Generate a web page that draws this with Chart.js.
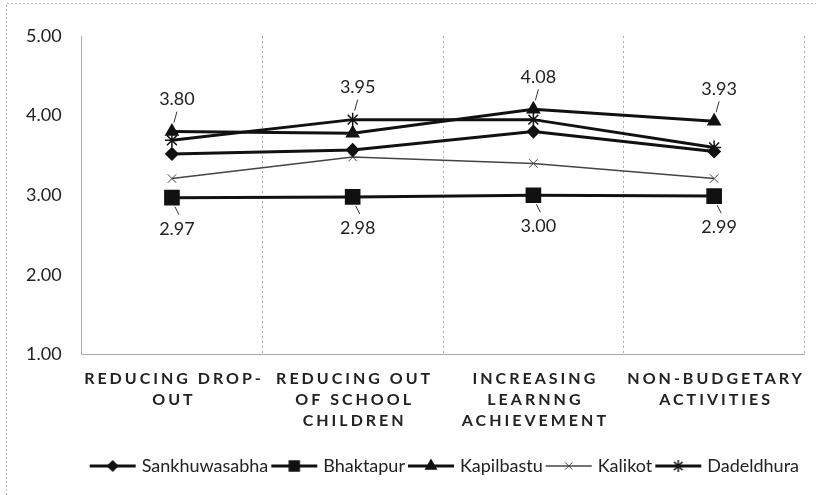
<!DOCTYPE html>
<html>
<head>
<meta charset="utf-8">
<script src="https://cdn.jsdelivr.net/npm/chart.js@4"></script>
<style>
  body { margin: 0; background: #fff; }
  canvas { display: block; }
</style>
</head>
<body>
<canvas id="chart" width="816" height="495"></canvas>
<script>
const categories = [
  ["REDUCING DROP-", "OUT"],
  ["REDUCING OUT", "OF SCHOOL", "CHILDREN"],
  ["INCREASING", "LEARNNG", "ACHIEVEMENT"],
  ["NON-BUDGETARY", "ACTIVITIES"],
];
const sankhuwasabha = [3.52, 3.57, 3.80, 3.55];
const bhaktapur = [2.97, 2.98, 3.0, 2.99];
const kapilbastu = [3.8, 3.78, 4.08, 3.93];
const kalikot = [3.21, 3.48, 3.4, 3.21];
const dadeldhura = [3.69, 3.95, 3.95, 3.6];
const yTicks = [1, 2, 3, 4, 5];

const FONT = "Lato, 'Open Sans', sans-serif";

// small picture of line + marker for the legend
const legendIcon = (style, color, lineWidth, radius) => {
  const c = document.createElement("canvas");
  c.width = 50;
  c.height = 18;
  const ctx = c.getContext("2d");
  ctx.strokeStyle = color;
  ctx.fillStyle = color;
  ctx.lineWidth = lineWidth;
  ctx.beginPath();
  ctx.moveTo(2, 9);
  ctx.lineTo(48, 9);
  ctx.stroke();
  ctx.lineWidth = style === "crossRot" ? 1 : 1.5;
  Chart.helpers.drawPoint(ctx, { pointStyle: style, radius: radius, borderWidth: ctx.lineWidth }, 25, 9);
  return c;
};

const makeSet = (label, data, style, color, width, radius, iconRadius) => ({
  label: label,
  data: data,
  borderColor: color,
  backgroundColor: color,
  borderWidth: width,
  pointStyle: style,
  pointRadius: radius,
  pointBorderWidth: style === "crossRot" ? 1 : 1.5,
  pointBackgroundColor: color,
  pointBorderColor: color,
  tension: 0,
  icon: legendIcon(style, color, width, iconRadius),
});

const datasets = [
  makeSet("Sankhuwasabha", sankhuwasabha, "rectRot", "#111", 3, 6, 5),
  makeSet("Bhaktapur", bhaktapur, "rect", "#111", 3, 10, 7),
  makeSet("Kapilbastu", kapilbastu, "triangle", "#111", 3, 7, 6),
  makeSet("Kalikot", kalikot, "crossRot", "#444", 1.5, 6, 5),
  makeSet("Dadeldhura", dadeldhura, "star", "#111", 3, 7, 6),
];

// labels: highest value above each category, Bhaktapur below
const valueLabels = {
  id: "valueLabels",
  afterDatasetsDraw(chart) {
    const ctx = chart.ctx;
    const x = chart.scales.x;
    const y = chart.scales.y;
    ctx.save();
    ctx.font = "18px " + FONT;
    ctx.fillStyle = "#222";
    ctx.strokeStyle = "#333";
    ctx.lineWidth = 1;
    ctx.textAlign = "center";
    ctx.textBaseline = "middle";
    categories.forEach((c, i) => {
      let top = -Infinity;
      datasets.forEach((d) => { if (d.data[i] > top) top = d.data[i]; });
      const px = x.getPixelForValue(i);
      const pyTop = y.getPixelForValue(top);
      ctx.beginPath();
      ctx.moveTo(px + 2, pyTop - 9);
      ctx.lineTo(px + 5, pyTop - 20);
      ctx.stroke();
      ctx.fillText(top.toFixed(2), px + 5, pyTop - 32);

      const low = bhaktapur[i];
      const pyLow = y.getPixelForValue(low);
      ctx.beginPath();
      ctx.moveTo(px + 3, pyLow + 9);
      ctx.lineTo(px + 7, pyLow + 17);
      ctx.stroke();
      ctx.fillText(low.toFixed(2), px + 5, pyLow + 31);
    });
    ctx.restore();
  },
};

// x labels drawn with letter spacing, frame of the scan
const extras = {
  id: "extras",
  beforeDraw(chart) {
    const ctx = chart.ctx;
    ctx.save();
    ctx.strokeStyle = "#bbb";
    ctx.lineWidth = 1;
    ctx.setLineDash([2, 2]);
    ctx.beginPath();
    ctx.moveTo(6.5, 495);
    ctx.lineTo(6.5, 3.5);
    ctx.lineTo(816, 3.5);
    ctx.stroke();
    ctx.restore();
  },
  afterDraw(chart) {
    const ctx = chart.ctx;
    const x = chart.scales.x;
    ctx.save();
    ctx.font = "bold 16px " + FONT;
    ctx.fillStyle = "#222";
    ctx.textAlign = "center";
    ctx.textBaseline = "middle";
    ctx.letterSpacing = "3px";
    categories.forEach((lines, i) => {
      const px = x.getPixelForValue(i);
      lines.forEach((t, j) => {
        ctx.fillText(t, px + 2, chart.chartArea.bottom + 24 + j * 21);
      });
    });
    ctx.restore();
  },
};

new Chart(document.getElementById("chart"), {
  type: "line",
  data: {
    labels: categories,
    datasets: datasets,
  },
  options: {
    responsive: false,
    animation: false,
    layout: { padding: { top: 36, right: 11, left: 14, bottom: 10 } },
    scales: {
      x: {
        offset: true,
        grid: { color: "#aaa", lineWidth: 1, tickLength: 0, offset: true },
        border: { display: true, color: "#aaa", dash: [2, 3] },
        ticks: {
          color: "rgba(0,0,0,0)",
          font: { family: FONT, size: 16, weight: "bold", lineHeight: 1.3 },
          maxRotation: 0,
          autoSkip: false,
          padding: 17,
        },
      },
      y: {
        min: 1,
        max: 5,
        afterBuildTicks: (axis) => { axis.ticks = yTicks.map((v) => ({ value: v })); },
        grid: { display: false },
        border: { display: true, color: "#aaa", dash: [2, 3] },
        ticks: {
          color: "#222",
          font: { family: FONT, size: 18 },
          padding: 12,
          callback: (v) => Number(v).toFixed(2),
        },
      },
    },
    plugins: {
      legend: {
        position: "bottom",
        align: "end",
        labels: {
          color: "#222",
          font: { family: FONT, size: 18 },
          usePointStyle: true,
          pointStyleWidth: 40,
          boxHeight: 18,
          padding: 6,
          generateLabels: (chart) => chart.data.datasets.map((d, i) => ({
            text: d.label,
            pointStyle: d.icon,
            fontColor: "#222",
            lineWidth: 0,
            datasetIndex: i,
          })),
        },
      },
      tooltip: { enabled: false },
    },
  },
  plugins: [valueLabels, extras],
});
</script>
</body>
</html>
